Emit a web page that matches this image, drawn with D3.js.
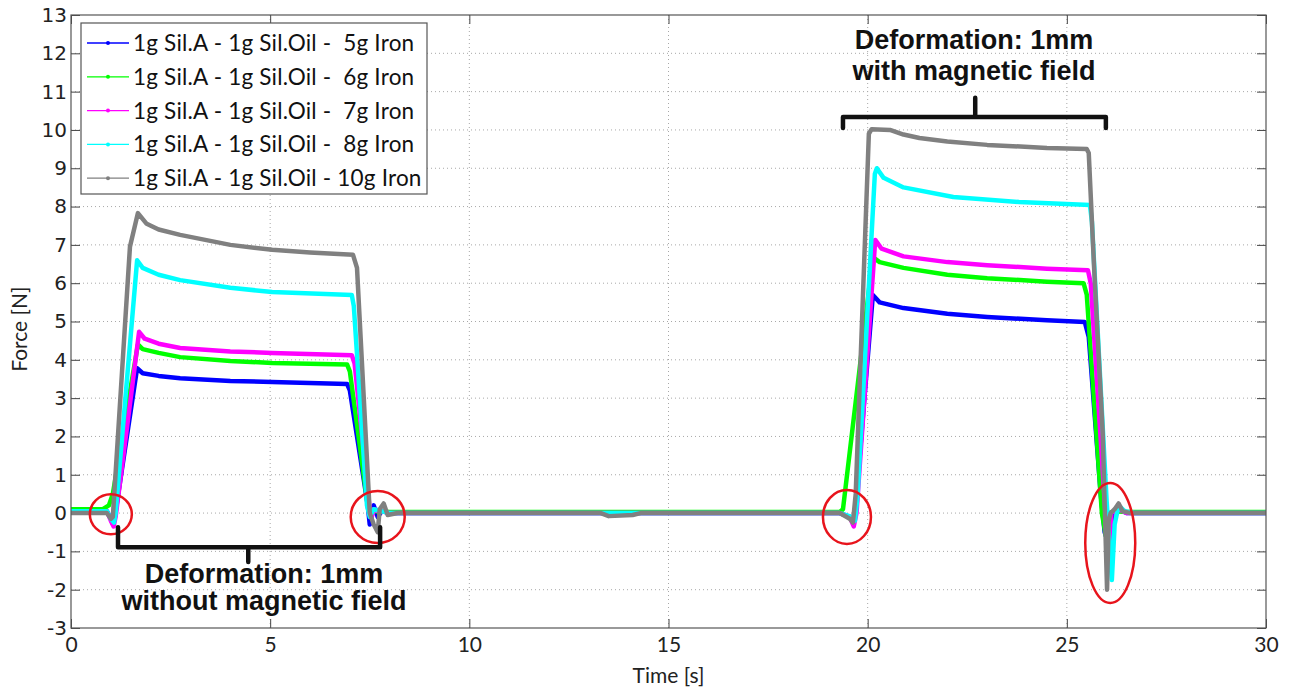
<!DOCTYPE html>
<html>
<head>
<meta charset="utf-8">
<script src="https://cdn.jsdelivr.net/npm/d3@7"></script>
<style>
  body { margin: 0; background: #fff; }
  svg { display: block; }
  .legend text { white-space: pre; }
</style>
</head>
<body>
<svg width="1293" height="691"></svg>
<script>
// series, [time s, force N]
const iron5 = [[0,0.06],[0.9,0.05],[1.0,-0.15],[1.05,-0.28],[1.1,-0.1],[1.66,3.78],[1.8,3.65],[2.2,3.58],[2.74,3.52],[4,3.45],[5.05,3.42],[6.93,3.37],[7.0,3.2],[7.45,0.2],[7.5,-0.3],[7.55,0.0],[7.6,0.2],[7.7,-0.1],[7.8,0.05],[8.0,0],[19.3,0],[19.55,-0.1],[19.65,-0.25],[19.7,0.2],[20.13,5.69],[20.3,5.5],[20.9,5.35],[22,5.2],[23,5.12],[24.5,5.03],[25.45,4.99],[25.55,4.6],[25.85,0.5],[25.95,-0.5],[26.05,-0.8],[26.15,0],[26.3,0.1],[26.5,0],[30,0]];
const iron6 = [[0,0.1],[0.8,0.1],[0.95,0.2],[1.05,0.5],[1.68,4.4],[1.8,4.28],[2.2,4.18],[2.74,4.07],[4,3.97],[5.05,3.92],[6.93,3.88],[7.0,3.7],[7.45,0.2],[7.55,0.05],[8,0.03],[19.3,0.03],[19.38,0.1],[20.13,6.68],[20.3,6.55],[20.9,6.4],[22,6.22],[23,6.13],[24.5,6.04],[25.42,6.0],[25.5,5.7],[25.88,0.0],[25.98,-0.6],[26.05,0],[26.2,0.05],[26.5,0.03],[30,0.03]];
const iron7 = [[0,0.05],[0.9,0.05],[1.0,-0.2],[1.07,-0.35],[1.12,-0.1],[1.71,4.73],[1.85,4.55],[2.2,4.42],[2.74,4.31],[4,4.22],[5.05,4.18],[7.05,4.12],[7.12,3.9],[7.5,0.1],[7.55,-0.1],[7.6,0.1],[8,0],[19.3,0],[19.55,-0.1],[19.65,-0.35],[19.72,0],[20.19,7.13],[20.35,6.9],[20.9,6.7],[22,6.55],[23,6.47],[24.5,6.38],[25.53,6.34],[25.6,6.0],[25.95,0.3],[26.05,-1.2],[26.12,0],[26.3,0.1],[26.5,0],[30,0]];
const iron8 = [[0,0.05],[0.9,0.05],[1.0,-0.15],[1.08,-0.25],[1.12,0],[1.66,6.6],[1.8,6.4],[2.2,6.22],[2.74,6.08],[4,5.88],[5.05,5.77],[7.05,5.69],[7.1,5.4],[7.43,0.2],[7.5,-0.1],[7.6,0.1],[8,0],[19.3,0],[19.6,-0.1],[19.68,-0.2],[19.75,0.5],[20.18,8.85],[20.23,9.0],[20.4,8.75],[20.9,8.5],[22.15,8.25],[23.8,8.12],[25.58,8.04],[25.63,7.6],[26.0,0.3],[26.13,-1.75],[26.2,-0.3],[26.3,0.2],[26.45,0.05],[26.7,0],[30,0]];
const iron10 = [[0,0],[0.9,0],[1.0,-0.15],[1.05,-0.1],[1.48,6.95],[1.68,7.83],[1.9,7.55],[2.2,7.4],[2.74,7.26],[4,7.0],[5.05,6.87],[6,6.8],[7.08,6.74],[7.18,6.4],[7.5,0],[7.6,-0.3],[7.7,-0.5],[7.75,0.1],[7.85,0.25],[7.95,-0.05],[8.2,0],[13.3,0],[13.5,-0.08],[14.1,-0.05],[14.3,0],[19.3,0],[19.55,-0.15],[19.63,-0.25],[19.7,0.5],[20.03,9.9],[20.1,10.02],[20.56,10.0],[20.9,9.88],[21.3,9.79],[22,9.7],[23,9.61],[24.5,9.53],[25.5,9.5],[25.55,9.4],[25.68,6.5],[25.9,2.1],[26.01,-2.0],[26.05,-0.2],[26.1,0],[26.2,0.1],[26.3,0.25],[26.4,0.05],[26.6,0],[30,0]];

const seriesNames = ["1g Sil.A - 1g Sil.Oil -  5g Iron", "1g Sil.A - 1g Sil.Oil -  6g Iron", "1g Sil.A - 1g Sil.Oil -  7g Iron", "1g Sil.A - 1g Sil.Oil -  8g Iron", "1g Sil.A - 1g Sil.Oil - 10g Iron"];
const seriesColors = ["#0000ff", "#00ff00", "#ff00ff", "#00ffff", "#808080"];
const seriesData = [iron5, iron6, iron7, iron8, iron10];

const xTicks = [0, 5, 10, 15, 20, 25, 30];
const yTicks = [-3, -2, -1, 0, 1, 2, 3, 4, 5, 6, 7, 8, 9, 10, 11, 12, 13];

// red circles: [t, F] centres
const circles = [[1.0, -0.03], [7.7, -0.1], [19.48, -0.1], [26.09, -0.78]];
const circleRadii = [[21, 20], [27, 26], [24, 27], [25, 60]];

// brackets: start t, end t, mid t, arm F, bar F, tip F
const lowBracket = [1.18, 7.76, 4.45, -0.37, -0.89, -1.28];
const highBracket = [19.38, 25.98, 22.7, 10.05, 10.34, 10.84];

const svg = d3.select("svg");
const plotL = 71, plotR = 1266, plotT = 15, plotB = 628;

const x = d3.scaleLinear().domain([0, 30]).range([plotL, plotR]);
const y = d3.scaleLinear().domain([-3, 13]).range([plotB, plotT]);

// grid
const grid = svg.append("g").attr("class", "grid");
grid.selectAll(".gx").data(xTicks.slice(1, -1)).enter().append("line")
  .attr("x1", d => x(d)).attr("x2", d => x(d)).attr("y1", plotT).attr("y2", plotB)
  .attr("stroke", "#a8a8a8").attr("stroke-dasharray", "1,3");
grid.selectAll(".gy").data(yTicks.slice(1, -1)).enter().append("line")
  .attr("y1", d => y(d)).attr("y2", d => y(d)).attr("x1", plotL).attr("x2", plotR)
  .attr("stroke", "#a8a8a8").attr("stroke-dasharray", "1,3");

// axes with inward ticks
const tickLen = 9;
const axB = svg.append("g").attr("transform", `translate(0,${plotB})`)
  .call(d3.axisBottom(x).tickValues(xTicks).tickSizeInner(-tickLen).tickSizeOuter(0).tickPadding(9));
const axT = svg.append("g").attr("transform", `translate(0,${plotT})`)
  .call(d3.axisTop(x).tickValues(xTicks).tickSizeInner(-tickLen).tickSizeOuter(0).tickFormat(""));
const axL = svg.append("g").attr("transform", `translate(${plotL},0)`)
  .call(d3.axisLeft(y).tickValues(yTicks).tickSizeInner(-tickLen).tickSizeOuter(0).tickPadding(4).tickFormat(d => String(d)));
const axR = svg.append("g").attr("transform", `translate(${plotR},0)`)
  .call(d3.axisRight(y).tickValues(yTicks).tickSizeInner(-tickLen).tickSizeOuter(0).tickFormat(""));
[axB, axT, axL, axR].forEach(a => {
  a.select(".domain").remove();
  a.selectAll(".tick line").attr("stroke", "#444");
});
axB.selectAll("text").attr("font-family", "Lato").attr("font-size", 21).attr("fill", "#222");
axL.selectAll("text").attr("font-family", "DejaVu Sans").attr("font-size", 20).attr("fill", "#222");

svg.append("text").attr("x", x(15)).attr("y", 683).attr("text-anchor", "middle")
  .attr("font-family", "Lato").attr("font-size", 21).attr("fill", "#222").text("Time [s]");
svg.append("text").attr("transform", `translate(27,${y(4.8)}) rotate(-90)`).attr("text-anchor", "middle")
  .attr("font-family", "Lato").attr("font-size", 21).attr("fill", "#222").text("Force [N]");

// data lines
const line = d3.line().x(d => x(d[0])).y(d => y(d[1]));
svg.append("g").selectAll("path").data(seriesData).enter().append("path")
  .attr("d", line).attr("fill", "none")
  .attr("stroke", (d, i) => seriesColors[i]).attr("stroke-width", 4.5)
  .attr("stroke-linejoin", "round");

// frame
svg.append("rect").attr("x", plotL).attr("y", plotT).attr("width", plotR - plotL).attr("height", plotB - plotT)
  .attr("fill", "none").attr("stroke", "#555").attr("stroke-width", 1.2);

// red circles
svg.append("g").selectAll("ellipse").data(circles).enter().append("ellipse")
  .attr("cx", d => x(d[0])).attr("cy", d => y(d[1]))
  .attr("rx", (d, i) => circleRadii[i][0]).attr("ry", (d, i) => circleRadii[i][1])
  .attr("fill", "none").attr("stroke", "#e8141c").attr("stroke-width", 2.5);

// brackets
function bracket(b) {
  const [t0, t1, tm, arm, bar, tip] = b;
  const p = d3.path();
  p.moveTo(x(t0), y(arm)); p.lineTo(x(t0), y(bar)); p.lineTo(x(t1), y(bar)); p.lineTo(x(t1), y(arm));
  p.moveTo(x(tm), y(bar)); p.lineTo(x(tm), y(tip));
  svg.append("path").attr("d", p.toString()).attr("fill", "none")
    .attr("stroke", "#111").attr("stroke-width", 4.5).attr("stroke-linecap", "round").attr("stroke-linejoin", "round");
}
bracket(lowBracket);
bracket(highBracket);

const noteStyle = s => s.attr("font-family", "Liberation Sans").attr("font-weight", "bold")
  .attr("font-size", 27).attr("fill", "#111").attr("text-anchor", "middle");
svg.append("text").attr("x", 264).attr("y", 583).call(noteStyle).text("Deformation: 1mm");
svg.append("text").attr("x", 264).attr("y", 610).call(noteStyle).text("without magnetic field");
svg.append("text").attr("x", 974).attr("y", 49).call(noteStyle).text("Deformation: 1mm");
svg.append("text").attr("x", 974).attr("y", 80).call(noteStyle).text("with magnetic field");

// legend
const lg = svg.append("g").attr("class", "legend");
lg.append("rect").attr("x", 81).attr("y", 23).attr("width", 346).attr("height", 171)
  .attr("fill", "#fff").attr("stroke", "#555").attr("stroke-width", 1.2);
const rows = lg.selectAll(".row").data(seriesNames).enter().append("g")
  .attr("transform", (d, i) => `translate(0,${43 + i * 33.8})`);
rows.append("line").attr("x1", 87).attr("x2", 129).attr("y1", 0).attr("y2", 0)
  .attr("stroke", (d, i) => seriesColors[i]).attr("stroke-width", 1.3);
rows.append("circle").attr("cx", 108).attr("cy", 0).attr("r", 2)
  .attr("fill", (d, i) => seriesColors[i]);
rows.append("text").attr("x", 133).attr("y", 8).attr("font-family", "Lato").attr("font-size", 22.5)
  .attr("letter-spacing", 0.2).attr("fill", "#111").text(d => d);
</script>
</body>
</html>
